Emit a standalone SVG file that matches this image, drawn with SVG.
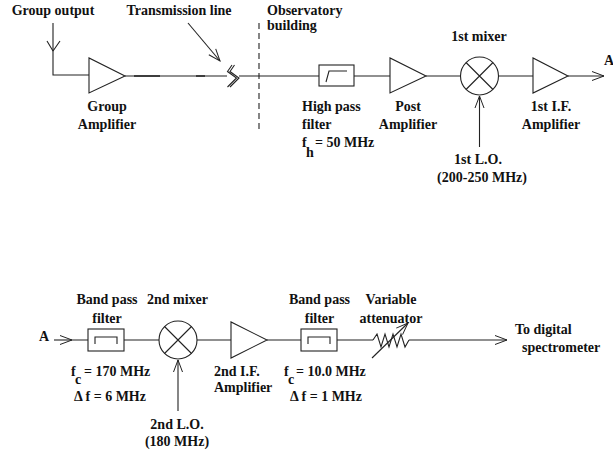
<svg xmlns="http://www.w3.org/2000/svg" width="613" height="452" viewBox="0 0 613 452">
<defs>
<marker id="open" markerUnits="userSpaceOnUse" markerWidth="16" markerHeight="16" refX="14" refY="8" orient="auto" overflow="visible"><path d="M2 3.500L14 8L2 12.500" fill="none" stroke="#222" stroke-width="1"/></marker>
</defs>
<style>
text{font-family:"Liberation Serif","Times New Roman",serif;font-weight:bold;font-size:14px;fill:#111}
.m{text-anchor:middle}
.s{fill:none;stroke:#222;stroke-width:1.100}
.w{fill:#fff;stroke:#222;stroke-width:1.100}
.a{marker-end:url(#open)}
</style>
<rect width="613" height="452" fill="#fff"/>
<g id="connectors" class="s">
<path d="M53 23V75H89"/>
<path d="M53 51L47 41M53 51L60 41"/>
<path d="M125 76H227"/>
<path d="M134 76H160M196 76H205" stroke-width="1.700"/>
<path d="M239 76H319M354 76H390M426 76H460M499 76H533"/>
<path d="M568 76H604" class="a"/>
<path d="M188 23L220 61" class="a"/>
<path d="M259 23V132" stroke-dasharray="6 4"/>
<path d="M479.500 147V96" class="a"/>
<path d="M54 340H72" class="a"/>
<path d="M72 340H88M124 340H159M197 340H231M267 340H301M337 340H373"/>
<path d="M409 340H507" class="a"/>
<path d="M178 411V360" class="a"/>
</g>
<g id="group-output"><text x="53" y="15" class="m">Group output</text></g>
<g id="transmission-label"><text x="179" y="15" class="m">Transmission line</text></g>
<g id="line-break" class="s"><path d="M232 65L227.500 71.500L236.500 78L227.500 87M234.500 65L230 71.500L239 78L230 87"/></g>
<g id="observatory"><text x="267" y="15">Observatory</text><text x="267" y="30">building</text></g>
<g id="group-amp"><path class="w" d="M89 58V93L125 76Z"/><text x="107" y="111" class="m">Group</text><text x="107" y="129" class="m">Amplifier</text></g>
<g id="high-pass"><rect class="w" x="319" y="65" width="35" height="21"/><path class="s" d="M326 82L329 71H347"/><text x="302" y="111">High pass</text><text x="302" y="129">filter</text><text x="302" y="147">f</text><text x="306" y="157">h</text><text x="315" y="147">= 50 MHz</text></g>
<g id="post-amp"><path class="w" d="M390 58V93L426 76Z"/><text x="408" y="111" class="m">Post</text><text x="408" y="129" class="m">Amplifier</text></g>
<g id="mixer-1"><circle class="w" cx="479.500" cy="76" r="19"/><path class="s" d="M466 62.500L493 89.500M493 62.500L466 89.500"/><text x="479" y="41" class="m">1st mixer</text></g>
<g id="if-amp-1"><path class="w" d="M533 58V93L568 76Z"/><text x="551" y="111" class="m">1st I.F.</text><text x="551" y="129" class="m">Amplifier</text></g>
<g id="a-out"><text x="604" y="65">A</text></g>
<g id="lo-1"><text x="478" y="164" class="m">1st L.O.</text><text x="482" y="182" class="m">(200-250 MHz)</text></g>
<g id="a-in"><text x="39" y="341">A</text></g>
<g id="band-pass-1"><rect class="w" x="88" y="329" width="36" height="22"/><path class="s" d="M95 344V337H117V344"/><text x="107" y="304" class="m">Band pass</text><text x="107" y="323" class="m">filter</text><text x="71" y="376">f</text><text x="75" y="384">c</text><text x="84" y="376">= 170 MHz</text><text x="74" y="401">Δ f = 6 MHz</text></g>
<g id="mixer-2"><circle class="w" cx="178" cy="340" r="19"/><path class="s" d="M164.500 326.500L191.500 353.500M191.500 326.500L164.500 353.500"/><text x="177.500" y="304" class="m">2nd mixer</text></g>
<g id="if-amp-2"><path class="w" d="M231 322V358L267 340Z"/><text x="214" y="376">2nd I.F.</text><text x="214" y="392">Amplifier</text></g>
<g id="lo-2"><text x="177" y="429" class="m">2nd L.O.</text><text x="177" y="446" class="m">(180 MHz)</text></g>
<g id="band-pass-2"><rect class="w" x="301" y="329" width="36" height="22"/><path class="s" d="M308 344V337H330V344"/><text x="319.500" y="304" class="m">Band pass</text><text x="319.500" y="323" class="m">filter</text><text x="284" y="376">f</text><text x="288" y="384">c</text><text x="296" y="376">= 10.0 MHz</text><text x="290" y="401">Δ f = 1 MHz</text></g>
<g id="attenuator"><path class="s" d="M373 340L377 334L381 347L385 334L389 347L393 334L397 347L401 334L405 347L409 340"/><path class="s a" d="M372 358L408 323"/><text x="391" y="304" class="m">Variable</text><text x="391" y="323" class="m">attenuator</text></g>
<g id="spectrometer"><text x="515" y="334">To digital</text><text x="522" y="352">spectrometer</text></g>
</svg>
